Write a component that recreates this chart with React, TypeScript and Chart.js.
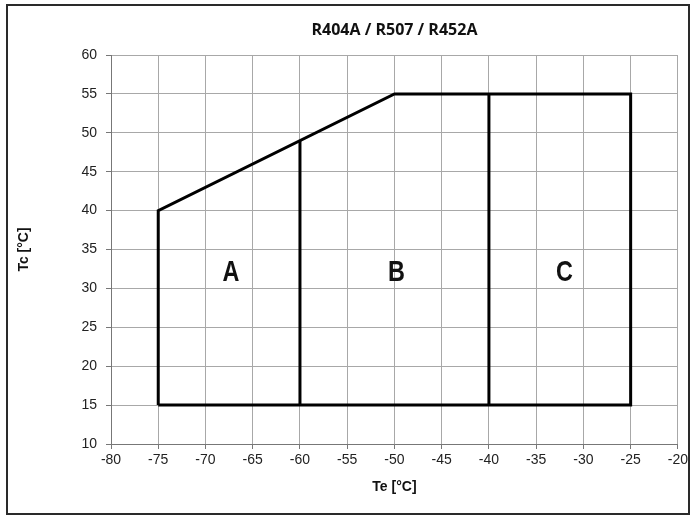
import React, { useEffect, useRef } from "react";
import { Chart, registerables } from "chart.js";

Chart.register(...registerables);

const chartTitle = "R404A / R507 / R452A";
const xAxisTitle = "Te [°C]";
const yAxisTitle = "Tc [°C]";

const xMin = -80;
const xMax = -20;
const xStep = 5;
const yMin = 10;
const yMax = 60;
const yStep = 5;

// Operating envelope outline
const envelopeTe = [-75, -75, -50, -25, -25, -75];
const envelopeTc = [15, 40, 55, 55, 15, 15];

// Dividers between regions
const dividerABTe = [-60, -60];
const dividerABTc = [15, 49];
const dividerBCTe = [-40, -40];
const dividerBCTc = [15, 55];

// Region labels
const regionNames = ["A", "B", "C"];
const regionTe = [-67.3, -49.8, -32];
const regionTc = [32, 32, 32];

const toPoints = (xs: number[], ys: number[]) => xs.map((x, i) => ({ x, y: ys[i] }));

export default function App() {
  const canvasRef = useRef<HTMLCanvasElement | null>(null);

  useEffect(() => {
    const canvas = canvasRef.current;
    if (!canvas) return;

    const decorPlugin = {
      id: "decor",
      beforeDraw(chart: any) {
        const ctx = chart.ctx;
        ctx.save();
        ctx.fillStyle = "#ffffff";
        ctx.fillRect(0, 0, chart.width, chart.height);
        ctx.restore();
      },
      afterDraw(chart: any) {
        const ctx = chart.ctx;
        const area = chart.chartArea;
        const xs = chart.scales.x;
        const ys = chart.scales.y;
        ctx.save();
        // outer frame
        ctx.strokeStyle = "#2a2a2a";
        ctx.lineWidth = 2;
        ctx.strokeRect(7, 5, 682, 509);
        // title
        ctx.fillStyle = "#111";
        ctx.font = "bold 16px 'Open Sans', 'Liberation Sans', sans-serif";
        ctx.textAlign = "center";
        ctx.textBaseline = "middle";
        ctx.fillText(chartTitle, (area.left + area.right) / 2, 30);
        // region labels (condensed)
        ctx.font = "bold 30px 'Liberation Sans', Arial, sans-serif";
        regionNames.forEach((name, i) => {
          const px = xs.getPixelForValue(regionTe[i]);
          const py = ys.getPixelForValue(regionTc[i]);
          ctx.save();
          ctx.translate(px, py);
          ctx.scale(0.78, 1);
          ctx.fillText(name, 0, 0);
          ctx.restore();
        });
        ctx.restore();
      },
    };

    const lineStyle = {
      showLine: true,
      pointRadius: 0,
      pointHoverRadius: 0,
      borderColor: "#000000",
      backgroundColor: "#000000",
      borderWidth: 3,
      borderJoinStyle: "miter" as const,
      fill: false,
    };

    const tickFont = { family: "'Liberation Sans', Arial, sans-serif", size: 14 };
    const axisTitleFont = { family: "'Liberation Sans', Arial, sans-serif", size: 14, weight: "bold" as const };

    const chart = new Chart(canvas, {
      type: "scatter",
      data: {
        datasets: [
          { ...lineStyle, label: "envelope", data: toPoints(envelopeTe, envelopeTc) },
          { ...lineStyle, label: "AB", data: toPoints(dividerABTe, dividerABTc) },
          { ...lineStyle, label: "BC", data: toPoints(dividerBCTe, dividerBCTc) },
        ],
      },
      options: {
        responsive: false,
        animation: false,
        devicePixelRatio: 1,
        layout: { padding: { left: 0, right: 12, top: 55, bottom: 0 } },
        plugins: {
          legend: { display: false },
          title: { display: false },
          tooltip: { enabled: false },
        },
        scales: {
          x: {
            type: "linear",
            min: xMin,
            max: xMax,
            ticks: {
              stepSize: xStep,
              color: "#222",
              padding: 3,
              maxRotation: 0,
              font: tickFont,
            },
            grid: { color: "#a8a8a8", tickColor: "#777", tickLength: 5, lineWidth: 1 },
            border: { color: "#777", width: 1 },
            title: {
              display: true,
              text: xAxisTitle,
              color: "#111",
              padding: { top: 0, bottom: 24 },
              font: axisTitleFont,
            },
            afterFit: (scale: any) => {
              scale.height = 76;
            },
          },
          y: {
            type: "linear",
            min: yMin,
            max: yMax,
            ticks: {
              stepSize: yStep,
              color: "#222",
              padding: 9,
              font: tickFont,
            },
            grid: { color: "#a8a8a8", tickColor: "#777", tickLength: 5, lineWidth: 1 },
            border: { color: "#777", width: 1 },
            title: {
              display: true,
              text: yAxisTitle,
              color: "#111",
              padding: { top: 16, bottom: 0 },
              font: axisTitleFont,
            },
            afterFit: (scale: any) => {
              scale.width = 111;
            },
          },
        },
      },
      plugins: [decorPlugin],
    });

    return () => {
      chart.destroy();
    };
  }, []);

  return (
    <div style={{ position: "absolute", left: 0, top: 0, width: 691, height: 520, background: "#fff" }}>
      <canvas ref={canvasRef} width={691} height={520} style={{ display: "block" }} />
    </div>
  );
}
